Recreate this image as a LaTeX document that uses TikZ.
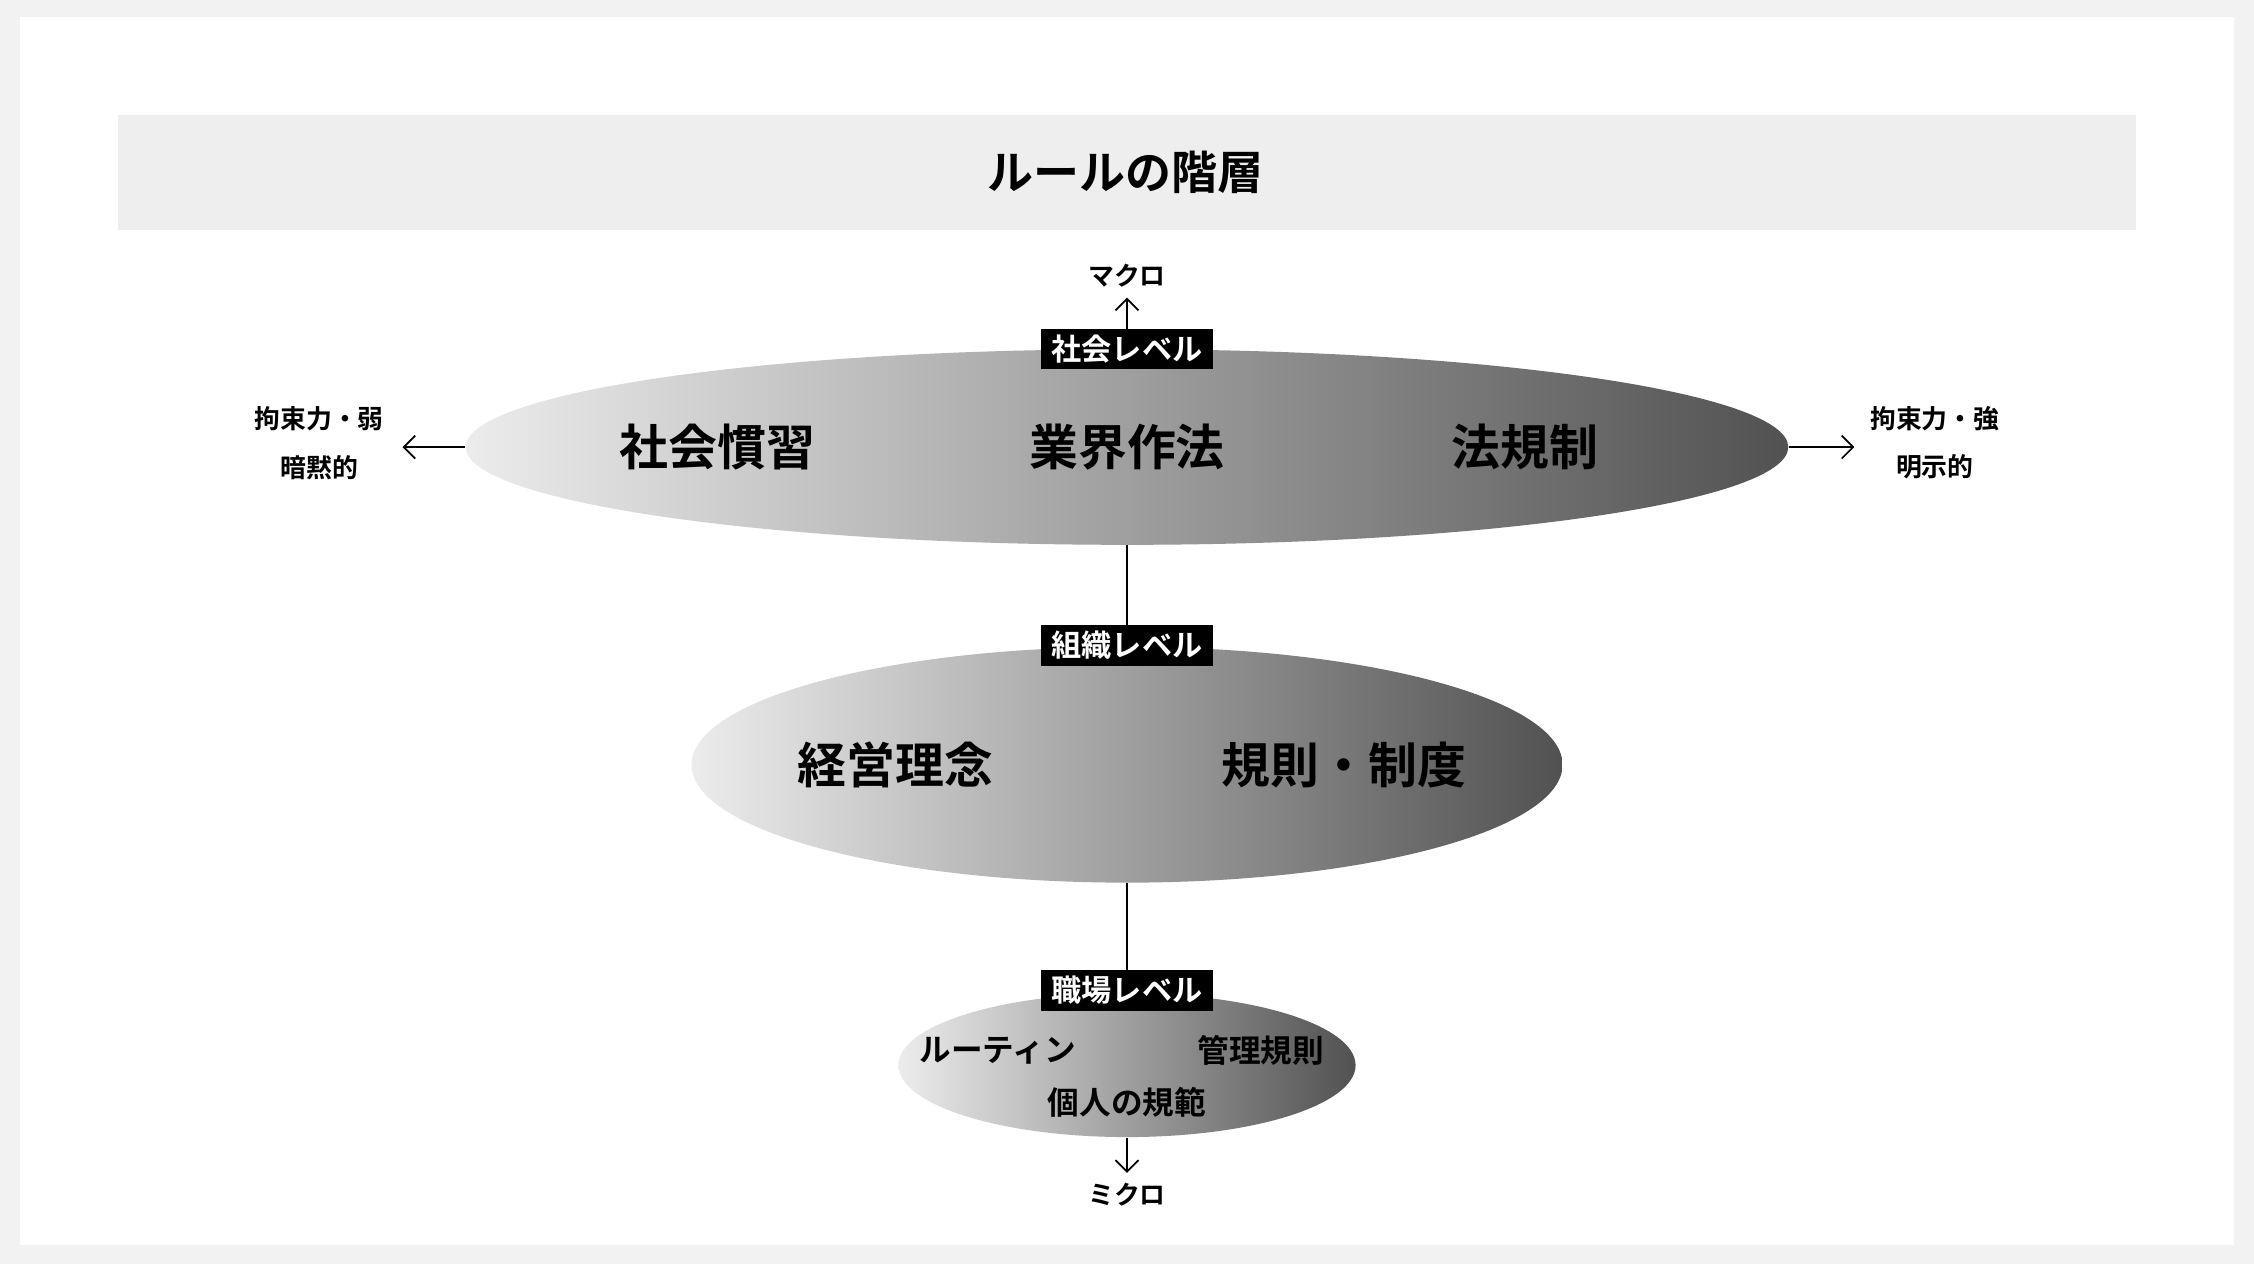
\documentclass[tikz,border=0pt]{standalone}
\usepackage{fontspec}
\setmainfont{Noto Sans CJK JP}[BoldFont={Noto Sans CJK JP Bold}]
\newfontfamily\jpb{Noto Sans CJK JP Bold}
\usetikzlibrary{shapes.geometric,arrows.meta}
\begin{document}
\begin{tikzpicture}[x=0.5pt,y=-0.5pt,
 ell/.style={ellipse,inner sep=0pt,left color=gray!15,right color=black!68,shading angle=90},
 big/.style={font=\jpb\fontsize{17}{20}\selectfont},
 mid/.style={font=\jpb\fontsize{11}{13}\selectfont},
 small/.style={font=\jpb\fontsize{9}{11}\selectfont},
 tag/.style={fill=black,text=white,font=\jpb\fontsize{10.5}{12}\selectfont,inner sep=1.5pt,minimum width=60pt,minimum height=14pt},
 ar/.style={-{Straight Barb[length=4pt]},line width=0.6pt}]
\fill[black!5] (0,0) rectangle (1568,879);
\fill[white] (14,12) rectangle (1554,866);
\fill[black!6.5] (82,80) rectangle (1486,160);
\node[font=\jpb\fontsize{16}{19}\selectfont] (title) at (783,120) {ルールの階層};
\node[ell,minimum width=460pt,minimum height=68pt] (e1) at (784,311) {};
\node[ell,minimum width=303pt,minimum height=82pt] (e2) at (784,532) {};
\node[ell,minimum width=159pt,minimum height=50pt] (e3) at (784,741) {};
\draw[line width=0.6pt] (e1.south) -- (e2.north);
\draw[line width=0.6pt] (e2.south) -- (e3.north);
\node[tag] (t1) at (784,243) {社会レベル};
\node[tag] (t2) at (784,449) {組織レベル};
\node[tag] (t3) at (784,689) {職場レベル};
\node[small] (macro) at (784,192) {マクロ};
\node[small] (micro) at (784,831) {ミクロ};
\draw[ar] (t1.north) -- (macro.south);
\draw[ar] (e3.south) -- (micro.north);
\node[small] (lw) at (222,291) {拘束力・弱};
\node[small] (lw2) at (222,325) {暗黙的};
\node[small] (rs) at (1346,291) {拘束力・強};
\node[small] (rs2) at (1346,325) {明示的};
\coordinate (la) at (280,311);
\coordinate (ra) at (1290,311);
\draw[ar] (e1.west) -- (la);
\draw[ar] (e1.east) -- (ra);
\node[big] (a1) at (499,311) {社会慣習};
\node[big] (a2) at (784,311) {業界作法};
\node[big] (a3) at (1061,311) {法規制};
\node[big] (b1) at (623,532) {経営理念};
\node[big] (b2) at (935,532) {規則・制度};
\node[mid] (c1) at (694,731) {ルーティン};
\node[mid] (c2) at (877,731) {管理規則};
\node[mid] (c3) at (784,767) {個人の規範};
\end{tikzpicture}
\end{document}
